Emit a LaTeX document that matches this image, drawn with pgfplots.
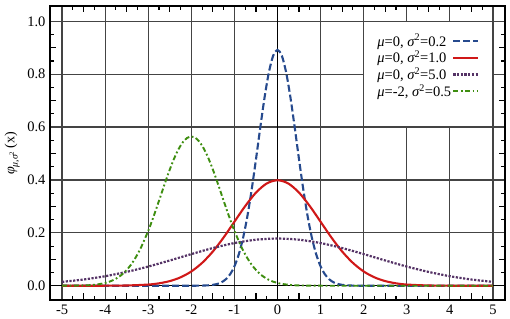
\documentclass[border=0pt]{standalone}
\usepackage{fontspec}
\setmainfont{Liberation Serif}
\usepackage{pgfplots}
\pgfplotsset{compat=1.18}
\definecolor{cblue}{HTML}{264A8E}
\definecolor{cred}{HTML}{D01818}
\definecolor{cpurple}{HTML}{553366}
\definecolor{cgreen}{HTML}{3E8E10}
\definecolor{cgrid}{HTML}{444444}
\begin{document}
\begin{tikzpicture}
\begin{axis}[
  name=ax,
  scale only axis,
  width=455pt, height=294pt,
  xmin=-5.28, xmax=5.28,
  ymin=-0.054, ymax=1.058,
  xtick={-5,-4,-3,-2,-1,0,1,2,3,4,5},
  xticklabels={-5,-4,-3,-2,-1,0,1,2,3,4,5},
  ytick={0,0.2,0.4,0.6,0.8,1.0},
  yticklabels={0.0,0.2,0.4,0.6,0.8,1.0},
  minor x tick num=3,
  minor y tick num=3,
  extra x ticks={-4.5,-3.5,-2.5,-1.5,-0.5,0.5,1.5,2.5,3.5,4.5},
  extra x tick labels={},
  extra y ticks={0.1,0.3,0.5,0.7,0.9},
  extra y tick labels={},
  extra tick style={grid=none, major tick length=6.5pt, tick style={line width=1.1pt,black}},
  major tick length=0pt,
  minor tick length=4pt,
  minor tick style={line width=1.1pt,black},
  grid=major,
  major grid style={cgrid, line width=1.2pt},
  axis line style={line width=1.8pt, black},
  tick align=inside,
  font=\fontsize{14.5}{16}\selectfont,
  tick label style={font=\fontsize{14.5}{16}\selectfont},
  xticklabel style={yshift=-1pt},
  yticklabel style={xshift=-1pt},
  ylabel={{\itshape φ}\textsubscript{\kern-1pt{\itshape μ},{\itshape σ}\textsuperscript{2}}\,(x)},
  ylabel style={at={(axis description cs:-0.083,0.5)}, anchor=center, rotate=0, font=\fontsize{14}{16}\selectfont},
  legend style={at={(axis description cs:0.717,0.908)}, anchor=north west, draw=none, fill=none,
    font=\fontsize{14.5}{16}\selectfont, row sep=1.3pt, inner sep=0pt,
    nodes={inner sep=1pt}},
  legend cell align=left,
  legend plot pos=right,
  legend image code/.code={\draw[#1] (0pt,0pt) -- (25pt,0pt);},
  clip=true,
]
% white legend panel
\fill[white] (axis cs:2,0.6) rectangle (axis cs:5,1.0);
\draw[cgrid, line width=1.2pt] (axis cs:2,0.6) rectangle (axis cs:5,1.0);
% zero lines
\draw[black, line width=1.4pt] (axis cs:0,-0.054) -- (axis cs:0,1.058);
\draw[black, line width=1.4pt] (axis cs:-5.28,0) -- (axis cs:5.28,0);

\addplot[cblue, line width=2.1pt, dash pattern=on 7pt off 3pt, smooth] coordinates {
(-5,0) (-2.5,0) (-2,0.0000) (-1.8,0.0003) (-1.6,0.0015) (-1.5,0.0032) (-1.4,0.0066) (-1.3,0.0130)
(-1.2,0.0244) (-1.1,0.0433) (-1.0,0.0732) (-0.9,0.1178) (-0.8,0.1801) (-0.7,0.2621)
(-0.6,0.3627) (-0.5,0.4775) (-0.4,0.5980) (-0.3,0.7124) (-0.2,0.8072) (-0.1,0.8701)
(0,0.8921) (0.1,0.8701) (0.2,0.8072) (0.3,0.7124) (0.4,0.5980) (0.5,0.4775)
(0.6,0.3627) (0.7,0.2621) (0.8,0.1801) (0.9,0.1178) (1.0,0.0732) (1.1,0.0433)
(1.2,0.0244) (1.3,0.0130) (1.4,0.0066) (1.5,0.0032) (1.6,0.0015) (1.8,0.0003) (2,0.0000) (2.5,0) (5,0)
};
\addlegendentry{{\itshape μ}=0, {\itshape σ}\textsuperscript{2}=0.2}

\addplot[cred, line width=2.1pt, smooth] coordinates {
(-5,0.0000) (-4.5,0.0000) (-4,0.0001) (-3.5,0.0009) (-3,0.0044) (-2.75,0.0091) (-2.5,0.0175)
(-2.25,0.0317) (-2,0.0540) (-1.75,0.0863) (-1.5,0.1295) (-1.25,0.1826) (-1,0.2420)
(-0.75,0.3011) (-0.5,0.3521) (-0.25,0.3867) (0,0.3989) (0.25,0.3867) (0.5,0.3521)
(0.75,0.3011) (1,0.2420) (1.25,0.1826) (1.5,0.1295) (1.75,0.0863) (2,0.0540)
(2.25,0.0317) (2.5,0.0175) (2.75,0.0091) (3,0.0044) (3.5,0.0009) (4,0.0001) (4.5,0.0000) (5,0.0000)
};
\addlegendentry{{\itshape μ}=0, {\itshape σ}\textsuperscript{2}=1.0}

\addplot[cpurple, line width=2.2pt, dash pattern=on 2.2pt off 1.5pt, smooth] coordinates {
(-5,0.0146) (-4.5,0.0235) (-4,0.0360) (-3.5,0.0524) (-3,0.0725) (-2.5,0.0955) (-2,0.1196)
(-1.5,0.1425) (-1,0.1614) (-0.5,0.1740) (0,0.1784) (0.5,0.1740) (1,0.1614) (1.5,0.1425)
(2,0.1196) (2.5,0.0955) (3,0.0725) (3.5,0.0524) (4,0.0360) (4.5,0.0235) (5,0.0146)
};
\addlegendentry{{\itshape μ}=0, {\itshape σ}\textsuperscript{2}=5.0}

\addplot[cgreen, line width=1.9pt, dash pattern=on 5pt off 2.5pt on 1.8pt off 2.5pt, smooth] coordinates {
(-5,0.0001) (-4.5,0.0011) (-4.25,0.0036) (-4,0.0103) (-3.8,0.0221) (-3.6,0.0436) (-3.4,0.0795)
(-3.2,0.1337) (-3,0.2076) (-2.9,0.2510) (-2.8,0.2975) (-2.7,0.3456) (-2.6,0.3936)
(-2.5,0.4394) (-2.4,0.4808) (-2.3,0.5156) (-2.2,0.5421) (-2.1,0.5586) (-2,0.5642)
(-1.9,0.5586) (-1.8,0.5421) (-1.7,0.5156) (-1.6,0.4808) (-1.5,0.4394) (-1.4,0.3936)
(-1.3,0.3456) (-1.2,0.2975) (-1.1,0.2510) (-1,0.2076) (-0.8,0.1337) (-0.6,0.0795)
(-0.4,0.0436) (-0.2,0.0221) (0,0.0103) (0.25,0.0036) (0.5,0.0011) (1,0.0001) (1.5,0) (5,0)
};
\addlegendentry{{\itshape μ}=-2, {\itshape σ}\textsuperscript{2}=0.5}
\end{axis}
\pgfresetboundingbox
\path[use as bounding box] ([xshift=-50pt,yshift=-19pt]ax.south west) rectangle ([xshift=5pt,yshift=6pt]ax.north east);
\end{tikzpicture}
\end{document}
